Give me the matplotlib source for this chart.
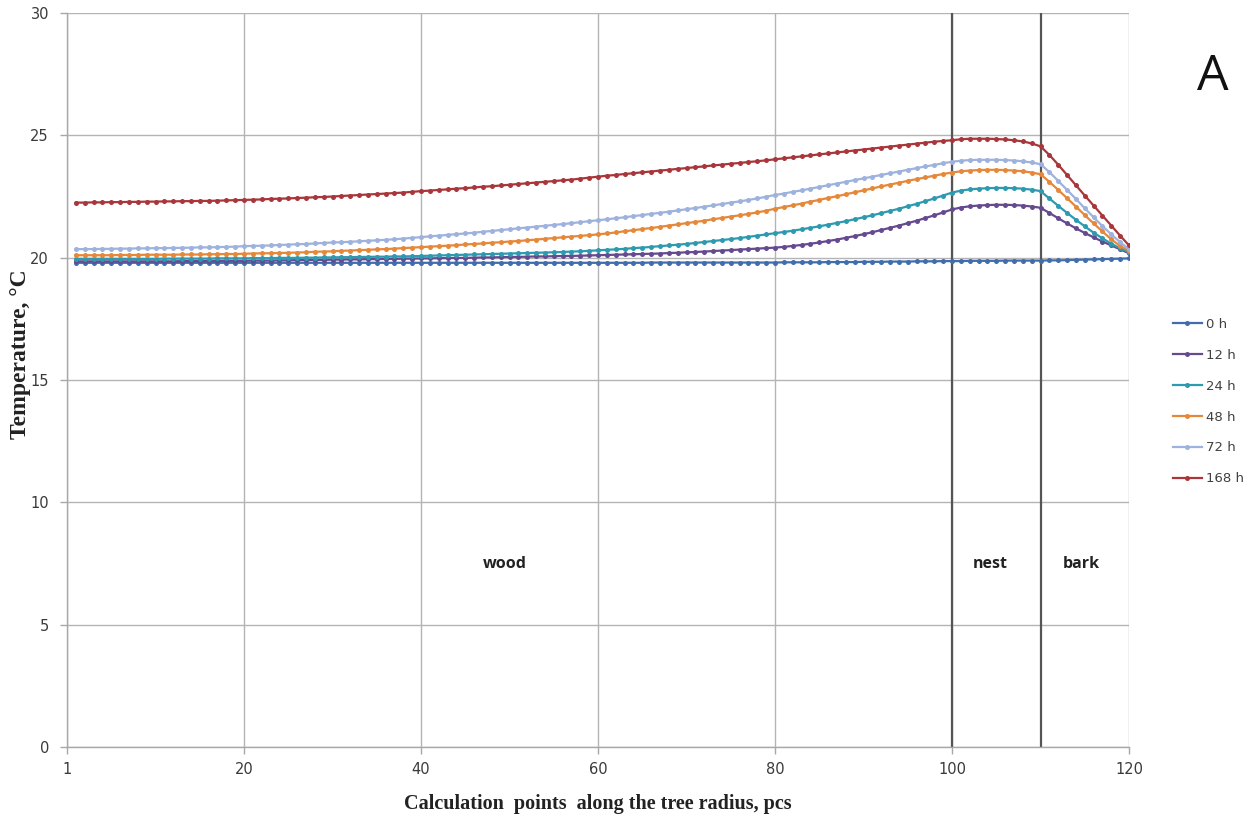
import matplotlib
matplotlib.use("Agg")
import matplotlib.pyplot as plt

x_points = list(range(1, 121))

t_0h = [
    19.79, 19.79, 19.79, 19.79, 19.79, 19.79, 19.79, 19.79, 19.79, 19.79,
    19.79, 19.79, 19.79, 19.79, 19.79, 19.79, 19.79, 19.79, 19.79, 19.79,
    19.79, 19.79, 19.79, 19.79, 19.79, 19.79, 19.79, 19.79, 19.79, 19.79,
    19.79, 19.79, 19.79, 19.79, 19.79, 19.79, 19.79, 19.79, 19.79, 19.79,
    19.79, 19.79, 19.79, 19.79, 19.79, 19.79, 19.79, 19.79, 19.79, 19.79,
    19.79, 19.79, 19.79, 19.79, 19.79, 19.79, 19.79, 19.79, 19.79, 19.79,
    19.79, 19.79, 19.79, 19.79, 19.79, 19.80, 19.80, 19.80, 19.80, 19.80,
    19.80, 19.80, 19.80, 19.80, 19.80, 19.80, 19.80, 19.80, 19.80, 19.80,
    19.81, 19.81, 19.81, 19.81, 19.81, 19.82, 19.82, 19.82, 19.82, 19.83,
    19.83, 19.83, 19.84, 19.84, 19.84, 19.85, 19.85, 19.85, 19.86, 19.86,
    19.86, 19.87, 19.87, 19.87, 19.87, 19.88, 19.88, 19.88, 19.88, 19.88,
    19.89, 19.89, 19.90, 19.91, 19.92, 19.93, 19.94, 19.95, 19.96, 19.97,
]

t_12h = [
    19.85, 19.85, 19.85, 19.85, 19.85, 19.85, 19.85, 19.85, 19.85, 19.85,
    19.85, 19.85, 19.86, 19.86, 19.86, 19.86, 19.87, 19.87, 19.87, 19.87,
    19.88, 19.88, 19.88, 19.89, 19.89, 19.90, 19.90, 19.91, 19.91, 19.92,
    19.92, 19.93, 19.93, 19.94, 19.94, 19.95, 19.95, 19.96, 19.96, 19.97,
    19.97, 19.98, 19.98, 19.99, 19.99, 20.00, 20.01, 20.01, 20.02, 20.03,
    20.03, 20.04, 20.05, 20.05, 20.06, 20.07, 20.07, 20.08, 20.09, 20.10,
    20.11, 20.12, 20.13, 20.14, 20.15, 20.16, 20.17, 20.19, 20.20, 20.22,
    20.23, 20.25, 20.27, 20.29, 20.31, 20.33, 20.35, 20.37, 20.39, 20.41,
    20.44, 20.48, 20.52, 20.57, 20.62, 20.68, 20.74, 20.81, 20.88, 20.96,
    21.04, 21.13, 21.22, 21.31, 21.41, 21.51, 21.62, 21.73, 21.85, 21.97,
    22.05, 22.10, 22.13, 22.15, 22.16, 22.16, 22.15, 22.13, 22.09, 22.04,
    21.83, 21.61, 21.40, 21.20, 21.01, 20.83, 20.66, 20.50, 20.34, 20.18,
]

t_24h = [
    19.95, 19.95, 19.95, 19.95, 19.95, 19.95, 19.95, 19.95, 19.95, 19.95,
    19.96, 19.96, 19.96, 19.96, 19.96, 19.96, 19.97, 19.97, 19.97, 19.97,
    19.98, 19.98, 19.98, 19.99, 19.99, 19.99, 20.00, 20.00, 20.01, 20.01,
    20.02, 20.02, 20.03, 20.03, 20.04, 20.04, 20.05, 20.05, 20.06, 20.07,
    20.08, 20.09, 20.10, 20.11, 20.12, 20.13, 20.14, 20.15, 20.16, 20.17,
    20.18, 20.19, 20.20, 20.21, 20.22, 20.23, 20.25, 20.26, 20.28, 20.30,
    20.32, 20.34, 20.36, 20.39, 20.41, 20.44, 20.47, 20.50, 20.53, 20.56,
    20.60, 20.64, 20.68, 20.72, 20.76, 20.80, 20.85, 20.90, 20.95, 21.00,
    21.05, 21.10, 21.16, 21.22, 21.28, 21.35, 21.42, 21.49, 21.57, 21.65,
    21.73, 21.82, 21.91, 22.00, 22.10, 22.20, 22.31, 22.42, 22.54, 22.66,
    22.74, 22.79, 22.82, 22.84, 22.85, 22.85, 22.84, 22.82, 22.78, 22.72,
    22.42, 22.12, 21.83, 21.55, 21.28, 21.02, 20.79, 20.57, 20.38, 20.22,
]

t_48h = [
    20.10, 20.10, 20.10, 20.10, 20.10, 20.11, 20.11, 20.11, 20.12, 20.12,
    20.12, 20.12, 20.13, 20.13, 20.13, 20.14, 20.14, 20.15, 20.15, 20.16,
    20.17, 20.18, 20.18, 20.19, 20.20, 20.21, 20.22, 20.24, 20.25, 20.26,
    20.28, 20.29, 20.31, 20.32, 20.34, 20.35, 20.37, 20.39, 20.41, 20.43,
    20.45, 20.47, 20.49, 20.51, 20.54, 20.56, 20.58, 20.61, 20.63, 20.66,
    20.68, 20.71, 20.74, 20.77, 20.80, 20.83, 20.86, 20.89, 20.92, 20.95,
    20.99, 21.03, 21.08, 21.12, 21.17, 21.21, 21.26, 21.31, 21.36, 21.41,
    21.46, 21.51, 21.57, 21.62, 21.68, 21.73, 21.79, 21.85, 21.92, 22.00,
    22.07, 22.14, 22.21, 22.29, 22.36, 22.44, 22.51, 22.59, 22.67, 22.75,
    22.83, 22.91, 22.99, 23.06, 23.14, 23.21, 23.28, 23.35, 23.42, 23.48,
    23.53, 23.56, 23.58, 23.59, 23.59, 23.58, 23.56, 23.53, 23.48, 23.41,
    23.10, 22.77, 22.43, 22.09, 21.74, 21.40, 21.07, 20.75, 20.48, 20.28,
]

t_72h = [
    20.35, 20.35, 20.35, 20.36, 20.36, 20.37, 20.37, 20.38, 20.38, 20.39,
    20.39, 20.40, 20.40, 20.41, 20.42, 20.42, 20.43, 20.44, 20.45, 20.47,
    20.48, 20.49, 20.50, 20.52, 20.53, 20.55, 20.56, 20.58, 20.60, 20.62,
    20.63, 20.65, 20.67, 20.69, 20.71, 20.73, 20.75, 20.78, 20.81, 20.84,
    20.87, 20.90, 20.93, 20.96, 20.99, 21.02, 21.06, 21.09, 21.13, 21.16,
    21.20, 21.23, 21.27, 21.30, 21.34, 21.37, 21.41, 21.45, 21.49, 21.53,
    21.57, 21.61, 21.65, 21.70, 21.74, 21.79, 21.83, 21.88, 21.93, 21.98,
    22.03, 22.08, 22.14, 22.19, 22.25, 22.30, 22.36, 22.42, 22.49, 22.56,
    22.62, 22.69, 22.75, 22.82, 22.89, 22.96, 23.03, 23.10, 23.17, 23.24,
    23.31, 23.38, 23.45, 23.52, 23.59, 23.66, 23.73, 23.79, 23.86, 23.92,
    23.96, 23.99, 24.00, 24.00, 24.00, 23.99, 23.97, 23.94, 23.89, 23.82,
    23.50, 23.14, 22.77, 22.40, 22.02, 21.65, 21.29, 20.95, 20.63, 20.35,
]

t_168h = [
    22.25, 22.25, 22.26, 22.26, 22.27, 22.27, 22.28, 22.28, 22.29, 22.29,
    22.30, 22.30, 22.31, 22.31, 22.32, 22.32, 22.33, 22.34, 22.35, 22.36,
    22.37, 22.38, 22.40, 22.41, 22.42, 22.44, 22.45, 22.47, 22.48, 22.50,
    22.52, 22.54, 22.56, 22.58, 22.60, 22.62, 22.64, 22.66, 22.69, 22.72,
    22.74, 22.77, 22.79, 22.82, 22.84, 22.87, 22.90, 22.92, 22.95, 22.98,
    23.01, 23.04, 23.07, 23.10, 23.13, 23.16, 23.19, 23.23, 23.27, 23.31,
    23.35, 23.38, 23.42, 23.45, 23.49, 23.52, 23.56, 23.59, 23.63, 23.66,
    23.70, 23.73, 23.77, 23.80, 23.84, 23.87, 23.91, 23.94, 23.98, 24.02,
    24.06, 24.10, 24.14, 24.18, 24.22, 24.26, 24.30, 24.34, 24.38, 24.42,
    24.46, 24.50, 24.54, 24.58, 24.62, 24.66, 24.70, 24.74, 24.77, 24.80,
    24.84, 24.86, 24.86, 24.86, 24.85, 24.83, 24.80, 24.75, 24.67, 24.55,
    24.20, 23.80, 23.38, 22.96, 22.54, 22.13, 21.72, 21.31, 20.90, 20.50,
]

series_labels = ["0 h", "12 h", "24 h", "48 h", "72 h", "168 h"]
series_values = [t_0h, t_12h, t_24h, t_48h, t_72h, t_168h]
series_colors = ["#3F6DAE", "#654A8F", "#2E9AB0", "#E6883A", "#9EB2DE", "#A8363A"]

x_tick_pos = [0, 20, 40, 60, 80, 100, 120]
x_tick_labels = ["1", "20", "40", "60", "80", "100", "120"]
y_ticks = [0, 5, 10, 15, 20, 25, 30]
zone_bounds = [100, 110]
zone_labels = ["wood", "nest", "bark"]
zone_label_x = [49.5, 104.3, 114.6]

fig = plt.figure(figsize=(12.55, 8.18), dpi=100)
ax = fig.add_axes([67/1255, 71/818, 1062/1255, 734/818])

for vals, lab, col in zip(series_values, series_labels, series_colors):
    ax.plot(x_points, vals, color=col, lw=1.6, marker="o", markersize=3.6,
            markeredgewidth=0, label=lab, zorder=3)

ax.set_xlim(0, 120)
ax.set_ylim(0, 30)
ax.set_xticks(x_tick_pos)
ax.set_xticklabels(x_tick_labels)
ax.set_yticks(y_ticks)
ax.grid(True, color="#B4B4B4", lw=1.0, zorder=0)
ax.set_axisbelow(True)
for s in ["top", "right"]:
    ax.spines[s].set_visible(False)
for s in ["left", "bottom"]:
    ax.spines[s].set_color("#A8A8A8")
    ax.spines[s].set_linewidth(1.0)
ax.tick_params(axis="both", colors="#A8A8A8", labelcolor="#3A3A3A",
               labelsize=10.5, length=5, width=1)
ax.tick_params(axis="x", pad=6)
ax.tick_params(axis="y", pad=8)

for b in zone_bounds:
    ax.axvline(b, color="#555555", lw=1.6, zorder=2)

for lab, xx in zip(zone_labels, zone_label_x):
    ax.text(xx, 7.5, lab, ha="center", va="center", fontsize=11.5,
            fontweight="bold", color="#222222", family="Open Sans")

ax.set_xlabel("Calculation  points  along the tree radius, pcs", fontsize=14.5,
              fontweight="bold", family="Liberation Serif", color="#222222",
              labelpad=12)
fig.text(0.016, 0.567, "Temperature, °C", rotation=90, ha="center", va="center",
         fontsize=17, fontweight="bold", family="Liberation Serif", color="#222222")

fig.text(0.966, 0.905, "A", ha="center", va="center", fontsize=36,
         color="#111111", family="Open Sans")

leg = fig.legend(loc="center left", bbox_to_anchor=(0.925, 0.509), frameon=False,
                 fontsize=9.5, labelspacing=1.35, handlelength=2.2,
                 handletextpad=0.3)
for t in leg.get_texts():
    t.set_color("#404040")

fig.savefig("out.png", dpi=100, facecolor="white")
